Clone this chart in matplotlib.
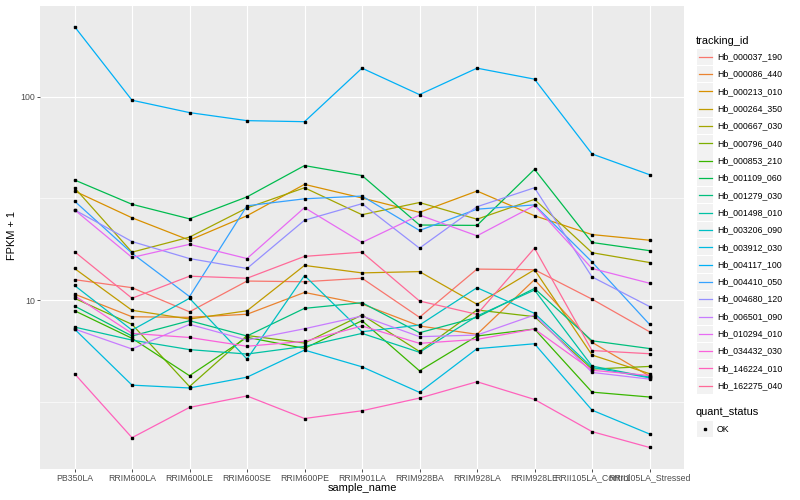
import math
import numpy as np
import matplotlib
matplotlib.use("Agg")
import matplotlib.pyplot as plt
from matplotlib.patches import Rectangle
from matplotlib.ticker import NullFormatter

plt.rcParams['font.family'] = ['Liberation Sans', 'DejaVu Sans']

# x categories
samples = ['PB350LA', 'RRIM600LA', 'RRIM600LE', 'RRIM600SE', 'RRIM600PE', 'RRIM901LA',
           'RRIM928BA', 'RRIM928LA', 'RRIM928LE', 'RRII105LA_Control', 'RRII105LA_Stressed']

tracking_ids = ['Hb_000037_190', 'Hb_000086_440', 'Hb_000213_010', 'Hb_000264_350',
                'Hb_000667_030', 'Hb_000796_040', 'Hb_000853_210', 'Hb_001109_060',
                'Hb_001279_030', 'Hb_001498_010', 'Hb_003206_090', 'Hb_003912_030',
                'Hb_004117_100', 'Hb_004410_050', 'Hb_004680_120', 'Hb_006501_090',
                'Hb_010294_010', 'Hb_034432_030', 'Hb_146224_010', 'Hb_162275_040']

# FPKM + 1, one list per gene
hb_000037_190 = [12.6, 11.5, 8.75, 12.4, 12.3, 12.8, 8.22, 14.2, 14.1, 10.1, 6.98]
hb_000086_440 = [10.7, 8.27, 8.22, 8.51, 10.9, 9.56, 7.45, 6.78, 12.6, 6.19, 4.22]
hb_000213_010 = [34.4, 25.4, 19.7, 26.0, 37.1, 31.8, 27.0, 34.4, 26.0, 21.0, 19.7]
hb_000264_350 = [14.3, 8.90, 8.06, 8.85, 14.8, 13.6, 13.8, 9.53, 14.1, 5.36, 4.34]
hb_000667_030 = [35.7, 17.2, 20.4, 28.4, 35.7, 26.3, 30.2, 25.0, 31.3, 17.1, 15.3]
hb_000796_040 = [10.2, 7.59, 3.75, 6.69, 6.14, 8.44, 5.58, 8.93, 8.28, 4.57, 4.71]
hb_000853_210 = [8.86, 6.48, 4.24, 6.55, 5.78, 7.91, 4.48, 6.65, 7.20, 3.52, 3.33]
hb_001109_060 = [39.0, 29.6, 25.1, 32.2, 45.9, 41.0, 23.4, 23.3, 44.0, 19.2, 17.5]
hb_001279_030 = [9.34, 6.65, 7.91, 6.65, 9.10, 9.70, 6.90, 8.22, 11.4, 6.30, 5.77]
hb_001498_010 = [7.36, 6.35, 5.70, 5.42, 5.91, 6.85, 5.53, 8.34, 11.2, 4.73, 4.17]
hb_003206_090 = [11.8, 7.11, 10.2, 5.12, 13.2, 6.98, 7.53, 11.5, 8.60, 4.66, 4.14]
hb_003912_030 = [7.20, 3.81, 3.69, 4.17, 5.67, 4.69, 3.51, 5.76, 6.09, 2.87, 2.19]
hb_004117_100 = [222, 96.3, 83.7, 76.4, 75.5, 138.5, 102.6, 138.5, 122.3, 52.4, 41.4]
hb_004410_050 = [30.7, 17.0, 10.4, 29.1, 31.5, 32.5, 22.0, 28.0, 29.4, 15.4, 7.59]
hb_004680_120 = [27.8, 19.4, 16.0, 14.3, 24.7, 29.8, 18.0, 28.8, 35.7, 13.0, 9.29]
hb_006501_090 = [7.20, 5.74, 7.59, 6.35, 7.22, 8.34, 6.60, 6.72, 8.44, 4.40, 4.08]
hb_010294_010 = [27.8, 16.2, 18.8, 16.0, 28.5, 19.2, 26.2, 20.7, 29.2, 14.3, 12.1]
hb_034432_030 = [10.5, 6.85, 6.54, 5.92, 6.26, 7.45, 6.12, 6.40, 7.20, 4.51, 4.25]
hb_146224_010 = [4.34, 2.10, 2.96, 3.37, 2.61, 2.85, 3.29, 3.96, 3.24, 2.25, 1.88]
hb_162275_040 = [17.3, 10.2, 13.1, 12.8, 16.4, 17.2, 9.89, 8.50, 18.0, 5.64, 5.44]

series = [hb_000037_190, hb_000086_440, hb_000213_010, hb_000264_350, hb_000667_030,
          hb_000796_040, hb_000853_210, hb_001109_060, hb_001279_030, hb_001498_010,
          hb_003206_090, hb_003912_030, hb_004117_100, hb_004410_050, hb_004680_120,
          hb_006501_090, hb_010294_010, hb_034432_030, hb_146224_010, hb_162275_040]


def hcl_hex(h, c=100.0, l=65.0):
    # polar LUV -> sRGB, like R's hcl()
    xn, yn, zn = 95.047, 100.0, 108.883
    un = 4 * xn / (xn + 15 * yn + 3 * zn)
    vn = 9 * yn / (xn + 15 * yn + 3 * zn)
    u = c * math.cos(math.radians(h))
    v = c * math.sin(math.radians(h))
    Y = yn * ((l + 16) / 116) ** 3
    up = u / (13 * l) + un
    vp = v / (13 * l) + vn
    X = 9 * Y * up / (4 * vp)
    Z = -X / 3 - 5 * Y + 3 * Y / vp
    X, Y, Z = X / 100, Y / 100, Z / 100
    r = 3.240479 * X - 1.537150 * Y - 0.498535 * Z
    g = -0.969256 * X + 1.875992 * Y + 0.041556 * Z
    b = 0.055648 * X - 0.204043 * Y + 1.057311 * Z

    def gam(t):
        t = 1.055 * t ** (1 / 2.4) - 0.055 if t > 0.0031308 else 12.92 * t
        return min(max(t, 0), 1)
    return '#%02x%02x%02x' % tuple(int(round(gam(t) * 255)) for t in (r, g, b))


n = len(tracking_ids)
hues = np.linspace(15, 375, n + 1)[:n]
colors = [hcl_hex(h) for h in hues]

fig = plt.figure(figsize=(8, 5), dpi=100)
ax = fig.add_axes([40 / 800, 1 - 468.5 / 500, 644 / 800, 463 / 500])
ax.set_facecolor('#EBEBEB')
for s in ax.spines.values():
    s.set_visible(False)

x = np.arange(1, len(samples) + 1)
for vals, col in zip(series, colors):
    ax.plot(x, vals, color=col, lw=0.9, zorder=2)
for vals in series:
    ax.plot(x, vals, ls='none', marker='s', ms=2.0, color='black', zorder=3)

ax.set_yscale('log')
allv = np.log10(np.concatenate(series))
lo, hi = allv.min(), allv.max()
pad = 0.05 * (hi - lo)
ax.set_ylim(10 ** (lo - pad), 10 ** (hi + pad))
ax.set_xlim(0.4, len(samples) + 0.6)

ax.set_yticks([10, 100])
ax.set_yticklabels(['10', '100'])
ax.set_yticks([10 ** 0.5, 10 ** 1.5], minor=True)
ax.yaxis.set_minor_formatter(NullFormatter())
ax.set_xticks(x)
ax.set_xticklabels(samples)
ax.tick_params(axis='both', which='major', length=2.2, width=0.6, color='#333333',
               labelcolor='#4D4D4D', labelsize=6.3, pad=1.5)
ax.tick_params(axis='y', which='minor', length=0)
ax.grid(which='major', color='white', lw=0.8)
ax.grid(which='minor', axis='y', color='white', lw=0.45)
ax.set_axisbelow(True)

# overlay in pixel coordinates for titles and legend
ov = fig.add_axes([0, 0, 1, 1], facecolor='none')
ov.set_xlim(0, 800)
ov.set_ylim(500, 0)
ov.axis('off')

ov.text(362, 488, 'sample_name', ha='center', va='center', fontsize=7.9)
ov.text(12, 236, 'FPKM + 1', ha='center', va='center', fontsize=7.9, rotation=90)

ov.text(696, 40.5, 'tracking_id', ha='left', va='center', fontsize=7.9)
step = 17.32
for i, (tid, col) in enumerate(zip(tracking_ids, colors)):
    yc = 56.7 + step * i
    ov.add_patch(Rectangle((696.5, yc - 8.2), 16.5, 16.4, facecolor='#F2F2F2', edgecolor='none'))
    ov.plot([698.5, 711.5], [yc, yc], color=col, lw=0.9)
    ov.text(717, yc, tid, ha='left', va='center', fontsize=6.3)

ov.text(696, 412, 'quant_status', ha='left', va='center', fontsize=7.9)
ov.add_patch(Rectangle((696.5, 429 - 8.2), 16.5, 16.4, facecolor='#F2F2F2', edgecolor='none'))
ov.plot([705], [429], marker='s', ms=2.0, color='black')
ov.text(717, 429, 'OK', ha='left', va='center', fontsize=6.3)

fig.savefig('out.png', dpi=100)
